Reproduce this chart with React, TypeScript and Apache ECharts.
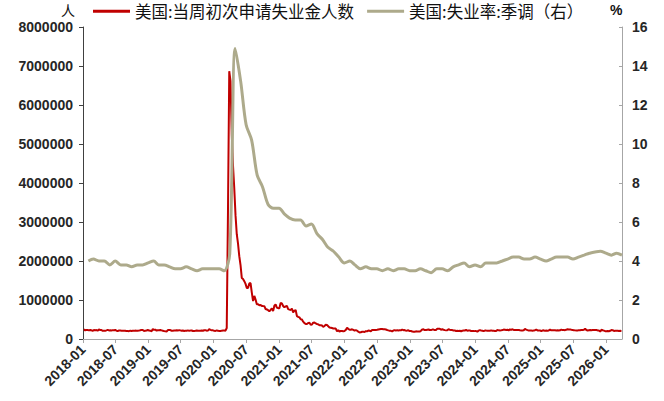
import { useEffect, useRef } from "react";
import * as echarts from "echarts";

// Weekly initial jobless claims (thousands), week ending Saturday, starting 2018-01-06
const claims2018 = [250, 220, 233, 230, 221, 230, 222, 210, 231, 226, 229, 215, 242, 233, 232, 209, 211, 211, 222, 234, 221, 222, 218, 227, 227, 231, 214, 207, 217, 218, 213, 212, 210, 213, 203, 204, 201, 214, 207, 214, 210, 215, 214, 214, 216, 224, 234, 231, 206, 214, 216, 231];
const claims2019 = [216, 213, 200, 253, 234, 239, 216, 225, 223, 229, 221, 212, 202, 196, 192, 230, 230, 228, 212, 211, 215, 218, 222, 216, 227, 221, 209, 216, 206, 215, 209, 220, 209, 215, 217, 204, 208, 213, 219, 210, 214, 212, 218, 211, 225, 227, 213, 215, 252, 234, 222, 222];
const claims2020 = [212, 207, 220, 214, 203, 206, 214, 220, 217, 213, 282, 3307, 6867, 6615, 5237, 4442, 3867, 3176, 2687, 2446, 2123, 1897, 1566, 1540, 1482, 1413, 1310, 1307, 1422, 1435, 1191, 971, 1104, 1011, 893, 893, 866, 873, 849, 845, 842, 769, 757, 738, 711, 748, 787, 716, 853, 885, 806, 790];
const claims2021 = [790, 926, 914, 847, 812, 837, 848, 765, 754, 745, 781, 684, 728, 742, 586, 566, 553, 507, 498, 444, 406, 387, 385, 412, 415, 364, 373, 419, 424, 399, 385, 375, 353, 354, 345, 312, 333, 364, 362, 326, 296, 290, 281, 271, 269, 268, 199, 227, 188, 206, 205, 198];
const claims2022 = [207, 230, 286, 260, 238, 239, 249, 232, 215, 227, 214, 187, 166, 171, 185, 184, 180, 202, 197, 218, 210, 200, 229, 229, 231, 231, 235, 244, 251, 256, 254, 248, 250, 243, 232, 222, 213, 209, 193, 219, 228, 214, 226, 218, 225, 222, 241, 225, 231, 211, 216, 223, 204];
const claims2023 = [206, 190, 186, 183, 196, 195, 192, 190, 212, 246, 247, 228, 228, 239, 245, 230, 229, 242, 242, 229, 232, 261, 262, 265, 239, 249, 237, 228, 221, 227, 248, 239, 232, 229, 216, 221, 204, 209, 207, 210, 198, 212, 217, 218, 233, 211, 220, 219, 203, 205, 205, 202];
const claims2024 = [202, 189, 215, 227, 218, 213, 202, 217, 215, 209, 212, 212, 222, 212, 212, 208, 208, 231, 222, 216, 221, 229, 242, 238, 233, 238, 223, 245, 235, 249, 233, 228, 233, 232, 230, 222, 219, 218, 225, 258, 241, 227, 216, 221, 217, 213, 215, 225, 242, 220, 219, 219];
const claims2025 = [203, 217, 223, 208, 219, 214, 220, 242, 222, 223, 225, 224, 219, 224, 216, 222, 241, 229, 229, 226, 239, 248, 245, 246, 237, 232, 227, 221, 217, 218, 227, 224, 234, 229, 237, 264, 232, 219, 226, 232, 225, 229, 230, 228, 232, 220, 216, 191, 236, 224, 214, 200];
const claims2026 = [199, 207, 200, 210, 231, 227, 206, 213, 212, 213, 205, 210, 208];

// Monthly unemployment rate, SA (%), Jan 2018 onward (plotted at month end)
const unemp2018 = [4.0, 4.1, 4.0, 4.0, 3.8, 4.0, 3.8, 3.8, 3.7, 3.8, 3.8, 3.9];
const unemp2019 = [4.0, 3.8, 3.8, 3.7, 3.6, 3.6, 3.7, 3.6, 3.5, 3.6, 3.6, 3.6];
const unemp2020 = [3.6, 3.5, 4.4, 14.9, 13.2, 11.0, 10.2, 8.4, 7.8, 6.9, 6.7, 6.7];
const unemp2021 = [6.4, 6.2, 6.1, 6.1, 5.8, 5.9, 5.4, 5.1, 4.7, 4.5, 4.2, 3.9];
const unemp2022 = [4.0, 3.8, 3.6, 3.7, 3.6, 3.6, 3.5, 3.6, 3.5, 3.6, 3.6, 3.5];
const unemp2023 = [3.5, 3.6, 3.5, 3.4, 3.6, 3.6, 3.5, 3.7, 3.8, 3.9, 3.7, 3.8];
const unemp2024 = [3.7, 3.9, 3.9, 3.9, 4.0, 4.1, 4.2, 4.2, 4.1, 4.1, 4.2, 4.1];
const unemp2025 = [4.0, 4.1, 4.2, 4.2, 4.2, 4.1, 4.2, 4.3, 4.4, null, 4.5, 4.4];
const unemp2026 = [4.3, 4.4, 4.3];

const xTickLabels = ["2018-01", "2018-07", "2019-01", "2019-07", "2020-01", "2020-07", "2021-01", "2021-07", "2022-01", "2022-07", "2023-01", "2023-07", "2024-01", "2024-07", "2025-01", "2025-07", "2026-01"];

const seriesNames = ["美国:当周初次申请失业金人数", "美国:失业率:季调（右）"];

export default function App() {
  const ref = useRef<HTMLDivElement>(null);

  useEffect(() => {
    if (!ref.current) return;
    const chart = echarts.init(ref.current, null, { renderer: "svg" });

    const weekly = [
      ...claims2018, ...claims2019, ...claims2020, ...claims2021, ...claims2022,
      ...claims2023, ...claims2024, ...claims2025, ...claims2026,
    ];
    const claimsData = weekly.map((v, i) => [new Date(2018, 0, 6 + 7 * i).getTime(), v * 1000]);
    const monthly = [
      ...unemp2018, ...unemp2019, ...unemp2020, ...unemp2021, ...unemp2022,
      ...unemp2023, ...unemp2024, ...unemp2025, ...unemp2026,
    ];
    const unempData = monthly.map((v, i) => [new Date(2018, i + 1, 0).getTime(), v]);

    const tickValues = xTickLabels.map((s) => {
      const [y, m] = s.split("-").map(Number);
      return new Date(y, m - 1, 1).getTime();
    });
    const fmt = (val: number) => {
      const d = new Date(val);
      const m = d.getMonth() + 1;
      return d.getFullYear() + "-" + (m < 10 ? "0" + m : "" + m);
    };

    const labelFont = {
      fontFamily: "Liberation Sans, Arial, sans-serif",
      fontSize: 14,
      fontWeight: "bold",
      color: "#262626",
    };

    chart.setOption({
      animation: false,
      backgroundColor: "#ffffff",
      legend: {
        left: 93,
        top: 3,
        padding: 0,
        itemGap: 13,
        itemWidth: 37,
        itemHeight: 3,
        icon: "rect",
        textStyle: { fontFamily: "Noto Sans CJK SC", fontSize: 16.5, color: "#111111" },
        data: seriesNames,
      },
      graphic: [
        { type: "text", left: 61, top: 3, style: { text: "人", fontFamily: "Noto Sans CJK SC", fontSize: 14, fill: "#111111" } },
        { type: "text", left: 610, top: 3, style: { text: "%", fontFamily: "Liberation Sans, Arial, sans-serif", fontSize: 14, fontWeight: "bold", fill: "#111111" } },
      ],
      grid: { left: 83, right: 42, top: 27, bottom: 62, outerBoundsMode: "none" },
      xAxis: {
        type: "value",
        min: new Date(2018, 0, 1).getTime(),
        max: new Date(2026, 2, 31).getTime(),
        scale: true,
        axisLine: { show: true, onZero: false, lineStyle: { color: "#a6a6a6", width: 1 } },
        axisTick: { show: true, customValues: tickValues, length: 4, lineStyle: { color: "#a6a6a6" } },
        axisLabel: { ...labelFont, customValues: tickValues, rotate: 45, margin: 8, formatter: fmt },
        splitLine: { show: false },
      },
      yAxis: [
        {
          type: "value",
          min: 0,
          max: 8000000,
          interval: 1000000,
          axisLine: { show: true, lineStyle: { color: "#404040" } },
          axisTick: { show: true, length: 4, lineStyle: { color: "#404040" } },
          axisLabel: { ...labelFont, margin: 10, formatter: (v: number) => String(v) },
          splitLine: { show: false },
        },
        {
          type: "value",
          position: "right",
          min: 0,
          max: 16,
          interval: 2,
          axisLine: { show: true, lineStyle: { color: "#a6a6a6" } },
          axisTick: { show: true, inside: true, length: 3, lineStyle: { color: "#a6a6a6" } },
          axisLabel: { ...labelFont, margin: 10 },
          splitLine: { show: false },
        },
      ],
      series: [
        {
          name: seriesNames[0],
          type: "line",
          yAxisIndex: 0,
          showSymbol: false,
          symbol: "none",
          data: claimsData,
          itemStyle: { color: "#C00000" },
          lineStyle: { color: "#C00000", width: 2 },
        },
        {
          name: seriesNames[1],
          type: "line",
          yAxisIndex: 1,
          showSymbol: false,
          symbol: "none",
          smooth: 0.3,
          connectNulls: true,
          data: unempData,
          itemStyle: { color: "#ADAA8B" },
          lineStyle: { color: "#ADAA8B", width: 3 },
        },
      ],
    });

    return () => chart.dispose();
  }, []);

  return (
    <div
      ref={ref}
      style={{ position: "fixed", left: 0, top: 0, width: 664, height: 401, background: "#fff" }}
    />
  );
}
